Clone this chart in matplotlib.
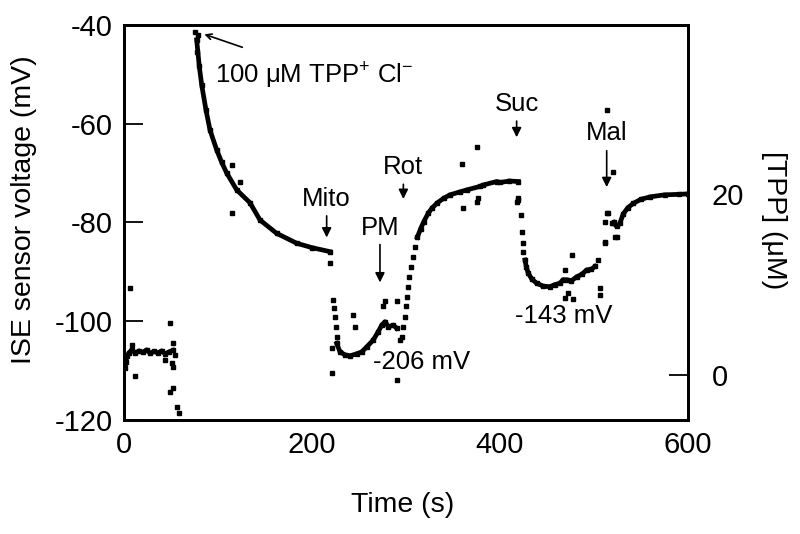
import numpy as np
import matplotlib
matplotlib.use('Agg')
import matplotlib.pyplot as plt

plt.rcParams['font.family'] = ['Liberation Sans', 'DejaVu Sans']
plt.rcParams['mathtext.fontset'] = 'custom'
plt.rcParams['mathtext.rm'] = 'Liberation Sans'
plt.rcParams['mathtext.default'] = 'regular'
plt.rcParams['axes.unicode_minus'] = False

# dense parts of the recording, drawn as a thick trace
base_t = [0, 1, 2, 3, 5, 8, 12, 16, 20, 24, 28, 32, 36, 40, 44, 48, 52]
base_v = [-107.5, -109.5, -108.2, -107, -106.5, -105.8, -106.4, -106, -106.3,
          -105.8, -106.5, -106.1, -106.4, -106, -106.6, -106.2, -105.9]

decay_t = [77.3, 80.1, 82.7, 87.2, 91.5, 98.6, 103.9, 109.3, 119.9, 134, 144.7,
           162.4, 183.7, 200, 219]
decay_v = [-43, -48.4, -52.2, -57.2, -61.3, -65.3, -67.8, -70, -73.4, -76, -79.5,
           -82.2, -84.2, -85.1, -85.9]

trough_t = [226.3, 229.8, 235, 240.4, 247.5, 252.9, 258.2, 265.2, 270.5, 274.1,
            277.7, 281.2, 286.5, 290]
trough_v = [-104.5, -106.2, -106.8, -107, -106.6, -106.2, -105.2, -103.8, -102.1,
            -100.8, -100.1, -101.1, -100.8, -101.4]

rot_t = [312, 315.5, 319, 323.7, 328, 333.5, 340, 346.8, 357.4, 364.6, 378.7,
         382.2, 396.5, 400, 410, 419.5]
rot_v = [-83, -81.3, -79.8, -78.1, -77, -76, -75.1, -74.4, -73.8, -73.4, -72.7,
         -72.4, -71.7, -71.9, -71.6, -71.7]

suc_t = [426.6, 428, 430.1, 434, 439, 446, 453.2, 458, 463.8, 467, 471, 476,
         481.6, 487, 492.2, 497, 501]
suc_v = [-87.6, -89, -90.3, -91.5, -92.3, -92.9, -93, -92.6, -92.3, -91.6, -91.6,
         -91.8, -91, -90.5, -89.6, -89.5, -88.9]

mal_t = [521, 524, 527.5, 531, 536, 542, 550, 560, 575, 590, 600]
mal_v = [-80, -80.8, -80.2, -78.3, -77, -76.1, -75.3, -74.8, -74.4, -74.3, -74.2]

# isolated samples (fast transitions and noise)
dots_t = [6.4, 11.7, 8, 43.6, 48.9, 50.7, 52.5, 54, 49, 51.8, 56, 58.9, 52,
          75.5, 78.4, 77.3, 114.6, 123.4, 114.6,
          219, 221, 221, 222.3, 223.4, 224.4, 225.1, 226.8,
          244, 245.7, 275.9, 277.7, 290, 290.8, 293.6,
          295.4, 297, 299, 300, 301.4, 302.5, 303.5, 305, 307, 309.6,
          359.3, 375.2, 360.3, 375.2, 377, 419.5, 419.5, 418.5,
          422, 423.1, 424.1, 424.8,
          476.3, 469, 472.7, 478, 469, 504.6, 506.4, 506.4, 511.7, 513.5, 518.8, 522.3,
          514, 520.6, 515.3, 511.7, 520.6, 524, 511.7]
dots_v = [-93.3, -111.1, -104.8, -107.8, -100.3, -108.5, -109.2, -106.8, -114.3,
          -113.6, -117.3, -118.5, -104.5,
          -41.5, -42.0, -45.4, -68.4, -71.7, -78.1,
          -88.3, -105.5, -110.4, -95.7, -97.4, -99.1, -101.1, -103.1,
          -98.7, -101.1, -96.9, -96, -95.9, -112, -103.8,
          -103.1, -101.1, -99.1, -97, -95, -93, -91, -89, -86.9, -84.9,
          -68.2, -64.8, -77.1, -75.8, -75, -75.4, -75.1, -75.8,
          -78.5, -81.9, -84.2, -85.9,
          -86.6, -89.6, -94.3, -95.4, -95.2, -87.6, -93.3, -94.7, -83.9, -78.1, -80.2, -82.9,
          -57.2, -69.7, -78.1, -79.8, -80.2, -82.9, -84.2]

# right axis calibration: mV read at the 0 and 20 uM ticks
tpp_ticks = [0, 20]
tpp_mv = [-110.9, -74.3]

fig = plt.figure(figsize=(8, 5.34), dpi=100)
ax = fig.add_axes([0.155, 0.2135, 0.705, 0.7397])

for t, v in [(base_t, base_v), (decay_t, decay_v), (trough_t, trough_v),
             (rot_t, rot_v), (suc_t, suc_v), (mal_t, mal_v)]:
    ax.plot(t, v, color='black', lw=3.4, marker='s', ms=3)
ax.plot(dots_t, dots_v, 's', color='black', ms=3.2, lw=0)

ax.set_xlim(0, 600)
ax.set_ylim(-120, -40)
ax.set_xticks([0, 200, 400, 600])
ax.set_yticks([-120, -100, -80, -60, -40])
ax.tick_params(axis='x', length=0, labelsize=21, pad=8)
ax.tick_params(axis='y', direction='in', length=14, width=1.3, labelsize=21, pad=8)
for s in ax.spines.values():
    s.set_linewidth(2)

ax2 = ax.twinx()
slope = (tpp_mv[1] - tpp_mv[0]) / (tpp_ticks[1] - tpp_ticks[0])
ax2.set_ylim((-120 - tpp_mv[0]) / slope, (-40 - tpp_mv[0]) / slope)
ax2.set_yticks(tpp_ticks)
ax2.tick_params(axis='y', direction='in', length=14, width=1.3, labelsize=21, pad=17)
for s in ax2.spines.values():
    s.set_linewidth(2)

# axis titles placed at their positions in the figure
fig.text(403 / 800, 1 - 505 / 534, 'Time (s)', ha='center', va='center', fontsize=20.5)
fig.text(24 / 800, 1 - 210 / 534, 'ISE sensor voltage (mV)', ha='center', va='center',
         rotation=90, fontsize=20.5)
fig.text(774 / 800, 1 - 220 / 534, '[TPP] (\u03bcM)', ha='center', va='center',
         rotation=270, fontsize=20.5)

# annotations
arrow = dict(arrowstyle='-|>', color='black', lw=1.2, mutation_scale=14)
labels = [('Mito', 215.6, -75.2, -78.1, -83.6),
          ('PM', 272.3, -81.2, -83.9, -92.7),
          ('Rot', 297.2, -68.8, -71.7, -75.8),
          ('Suc', 417.7, -56.0, -58.9, -63.3),
          ('Mal', 513.5, -61.9, -64.9, -73.4)]
for txt, x, ty, a0, a1 in labels:
    ax.text(x, ty, txt, ha='center', va='center', fontsize=18.5)
    ax.annotate('', xy=(x, a1), xytext=(x, a0), arrowprops=arrow)

ax.annotate('', xy=(82.7, -41.7), xytext=(128.7, -44.7),
            arrowprops=dict(arrowstyle='->', color='black', lw=1.2))
ax.text(96.8, -50.3, '100 \u03bcM TPP$^{+}$ Cl$^{-}$', ha='left', va='center', fontsize=18.5)
ax.text(265, -108.3, '-206 mV', ha='left', va='center', fontsize=18.5)
ax.text(416, -98.9, '-143 mV', ha='left', va='center', fontsize=18.5)

fig.savefig('out.png', dpi=100)
